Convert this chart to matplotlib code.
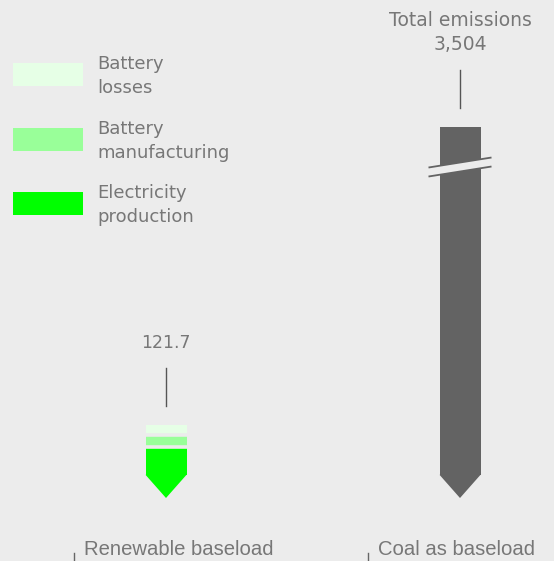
import matplotlib.pyplot as plt
from matplotlib.patches import Polygon, Rectangle

# emissions per scenario
categories = ["Renewable baseload", "Coal as baseload"]
part_names = ["Electricity\nproduction", "Battery\nmanufacturing", "Battery\nlosses"]
part_colors = ["#00ff00", "#99ff99", "#e6ffe6"]
renewable_parts = [68.9, 29.2, 23.6]
coal_total = 3504
coal_cut = 847  # coal bar is broken at this height

BG = "#ececec"
GREY = "#636363"
TEXT = "#777777"
W, H = 554, 561

fig = plt.figure(figsize=(W / 100, H / 100), dpi=100, facecolor=BG)
ax = fig.add_axes([0, 0, 1, 1])
ax.set_facecolor(BG)
ax.axis("off")

upp = sum(renewable_parts) / 50.0  # data units per pixel
base = 86                           # baseline, px from bottom
ax.set_ylim(-base * upp, (H - base) * upp)
xpp = 1 / 294.0                     # category units per pixel
ax.set_xlim(-166 * xpp, (W - 166) * xpp)


def px(n):
    return n * upp


bw = 41 * xpp
tip = px(23)

# renewable stack
bottoms = [sum(renewable_parts[:i]) for i in range(len(renewable_parts))]
ax.bar(0, renewable_parts, bottom=bottoms, width=bw, color=part_colors, linewidth=0)
ax.hlines(bottoms[1:], -bw / 2, bw / 2, color=BG, lw=2.6)
ax.add_patch(Polygon([(-bw / 2, 0.5), (bw / 2, 0.5), (0, -tip)], closed=True,
                     facecolor=part_colors[0], edgecolor="none"))

# coal bar, cut
ax.bar(1, coal_cut, width=bw, color=GREY, linewidth=0)
ax.add_patch(Polygon([(1 - bw / 2, 0.5), (1 + bw / 2, 0.5), (1, -tip)], closed=True,
                     facecolor=GREY, edgecolor="none"))

# break mark
bc = coal_cut - px(40)
hx = 31.5 * xpp
rise = px(5)
half = px(4.5)
ax.add_patch(Polygon([(1 - hx, bc - rise - half), (1 + hx, bc + rise - half),
                      (1 + hx, bc + rise + half), (1 - hx, bc - rise + half)],
                     closed=True, facecolor=BG, edgecolor="none"))
for s in (-half, half):
    ax.plot([1 - hx, 1 + hx], [bc - rise + s, bc + rise + s], color=GREY, lw=1.3,
            solid_capstyle="butt")

# value callouts
tot = sum(renewable_parts)
ax.plot([0, 0], [tot + px(19), tot + px(57)], color="#555555", lw=1)
ax.text(0, tot + px(82), f"{tot:.1f}", ha="center", va="center", fontsize=12.5,
        color=TEXT, family="DejaVu Sans")

ax.plot([1, 1], [coal_cut + px(19), coal_cut + px(57)], color="#555555", lw=1)
ax.text(1, coal_cut + px(83), f"{coal_total:,}", ha="center", va="center",
        fontsize=13.5, color=TEXT, family="DejaVu Sans")
ax.text(1, coal_cut + px(107), "Total emissions", ha="center", va="center",
        fontsize=13.5, color=TEXT, family="DejaVu Sans")

# category axis
ybot = -base * upp
for i, name in enumerate(categories):
    tx = i - 92 * xpp
    ax.plot([tx, tx], [ybot, ybot + px(8)], color="#666666", lw=1)
    ax.text(tx + 10 * xpp, ybot + px(6), name, ha="left", va="baseline",
            fontsize=14.6, color=TEXT, family="Liberation Sans")

# legend, top first
legend_tops = [63, 127.5, 192]
for top, name, col in zip(legend_tops, part_names[::-1], part_colors[::-1]):
    fig.patches.append(Rectangle((13 / W, 1 - (top + 23) / H), 70 / W, 23 / H,
                                 transform=fig.transFigure, facecolor=col,
                                 edgecolor="none"))
    for k, line in enumerate(name.split("\n")):
        fig.text(97 / W, 1 - (top + 6.3 + 24 * k) / H, line, ha="left",
                 va="baseline", fontsize=13, color=TEXT, family="DejaVu Sans")

fig.savefig("out.png", dpi=100, facecolor=BG)
